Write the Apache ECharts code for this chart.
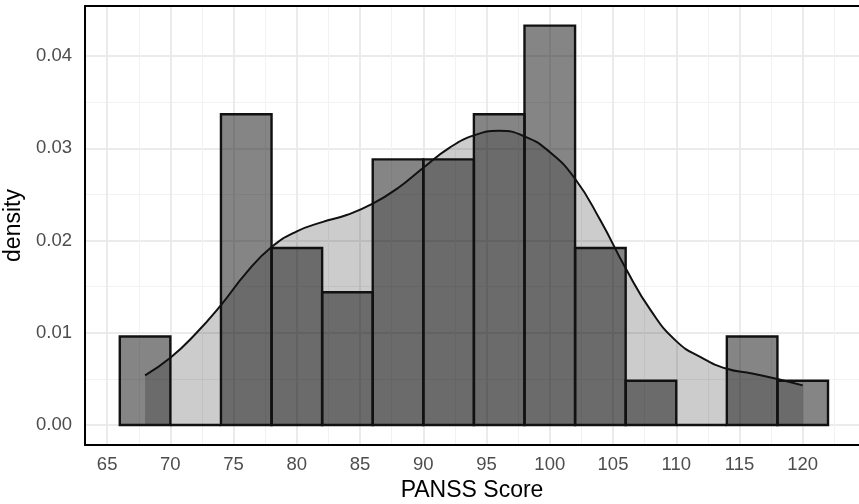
<!DOCTYPE html>
<html>
<head>
<meta charset="utf-8">
<script src="https://cdn.jsdelivr.net/npm/echarts@6/dist/echarts.min.js"></script>
<style>
  html, body { margin: 0; padding: 0; background: #fff; }
  #chart { width: 859px; height: 504px; }
</style>
</head>
<body>
<div id="chart"></div>
<script>
// histogram bins (left edge) and density of each bin, width 4
const binStart = [66, 70, 74, 78, 82, 86, 90, 94, 98, 102, 106, 110, 114, 118];
const binWidth = 4;
const binDensity = [0.0096, 0, 0.0337, 0.0192, 0.0144, 0.0288, 0.0288, 0.0337, 0.0433, 0.0192, 0.0048, 0, 0.0096, 0.0048];

// kernel density curve
const kdeX = [68, 70, 72, 74, 76, 78, 80, 82, 84, 86, 88, 90, 92, 94, 96, 98, 100, 102, 104, 106, 108, 110, 112, 114, 116, 118, 120];
const kdeY = [0.0054, 0.0073, 0.0099, 0.0130, 0.0165, 0.0193, 0.0210, 0.0220, 0.0228, 0.0240, 0.0257, 0.0279, 0.0300, 0.0314, 0.0319, 0.0313, 0.0296, 0.0267, 0.0222, 0.0170, 0.0124, 0.0091, 0.0073, 0.0061, 0.0056, 0.0050, 0.0043];

const xTicks = [65, 70, 75, 80, 85, 90, 95, 100, 105, 110, 115, 120];
const xMinor = [67.5, 72.5, 77.5, 82.5, 87.5, 92.5, 97.5, 102.5, 107.5, 112.5, 117.5, 122.5];
const yTicks = [0, 0.01, 0.02, 0.03, 0.04];
const yMinor = [0.005, 0.015, 0.025, 0.035];

const X_MIN = 63.25, X_MAX = 124.45;
const Y_MIN = -0.00216, Y_MAX = 0.04543;

const chart = echarts.init(document.getElementById('chart'));

const tickText = { color: '#4d4d4d', fontSize: 18.5, fontFamily: 'Liberation Sans' };
const frame = { show: true, onZero: false, lineStyle: { color: '#000', width: 2 } };

const option = {
  animation: false,
  grid: { left: 85, top: 6, right: 0, bottom: 59, outerBoundsMode: 'none' },
  xAxis: [
    {
      type: 'value', min: X_MIN, max: X_MAX,
      name: 'PANSS Score', nameLocation: 'middle', nameGap: 34,
      nameTextStyle: { color: '#000', fontSize: 23, fontFamily: 'Liberation Sans' },
      axisLine: frame,
      axisTick: { show: false, customValues: xTicks },
      axisLabel: Object.assign({ customValues: xTicks, margin: 10 }, tickText),
      splitLine: { show: true, lineStyle: { color: '#ebebeb', width: 2 } },
    },
    {
      type: 'value', min: X_MIN, max: X_MAX, position: 'top',
      axisLine: frame,
      axisTick: { show: false, customValues: xMinor },
      axisLabel: { show: false, customValues: xMinor },
      splitLine: { show: true, lineStyle: { color: '#f2f2f2', width: 1 } },
    },
  ],
  yAxis: [
    {
      type: 'value', min: Y_MIN, max: Y_MAX,
      name: 'density', nameLocation: 'middle', nameGap: 55,
      nameTextStyle: { color: '#000', fontSize: 23, fontFamily: 'Liberation Sans' },
      axisLine: frame,
      axisTick: { show: false, customValues: yTicks },
      axisLabel: Object.assign({ customValues: yTicks, margin: 13, formatter: v => v.toFixed(2) }, tickText),
      splitLine: { show: true, lineStyle: { color: '#ebebeb', width: 2 } },
    },
    {
      type: 'value', min: Y_MIN, max: Y_MAX, position: 'right',
      axisLine: { show: false },
      axisTick: { show: false, customValues: yMinor },
      axisLabel: { show: false, customValues: yMinor },
      splitLine: { show: true, lineStyle: { color: '#f2f2f2', width: 1 } },
    },
  ],
  series: [
    {
      // shaded area under the density curve
      type: 'line',
      z: 1,
      smooth: 0.5,
      symbol: 'none',
      data: kdeX.map((x, i) => [x, kdeY[i]]),
      lineStyle: { width: 0 },
      areaStyle: { color: 'rgba(0,0,0,0.2)', opacity: 1, origin: 'auto' },
    },
    {
      type: 'custom',
      z: 2,
      data: binStart.map((s, i) => [s, binDensity[i]]),
      renderItem: (params, api) => {
        const x0 = api.value(0);
        const p0 = api.coord([x0, 0]);
        const p1 = api.coord([x0 + binWidth, api.value(1)]);
        return {
          type: 'rect',
          shape: { x: p0[0], y: p1[1], width: p1[0] - p0[0], height: p0[1] - p1[1] },
          style: { fill: 'rgba(0,0,0,0.48)', stroke: '#111', lineWidth: 2.4 },
        };
      },
    },
    {
      // density curve line
      type: 'line',
      z: 3,
      smooth: 0.5,
      symbol: 'none',
      data: kdeX.map((x, i) => [x, kdeY[i]]),
      lineStyle: { color: '#111', width: 2 },
    },
  ],
};

chart.setOption(option);
</script>
</body>
</html>
